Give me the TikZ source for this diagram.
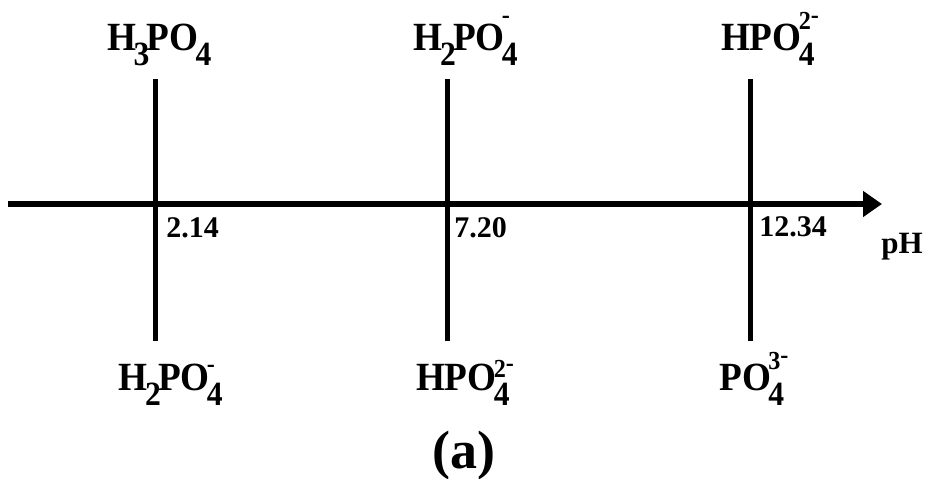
\documentclass[tikz,border=0pt]{standalone}
\usepackage{fontspec}
\usepackage{graphicx}
\setmainfont{Liberation Serif}
\usetikzlibrary{arrows.meta}
\newcommand{\chem}[1]{\scalebox{0.93}[1]{#1}}
\newcommand{\chsub}[1]{\kern-1.5pt\raisebox{-7.5pt}{\fontsize{17}{17}\selectfont#1}\kern-1.5pt}
\newcommand{\chmin}{\raisebox{3pt}{-}}
\newcommand{\chsubsup}[3][10.5pt]{\kern-1.5pt\rlap{\raisebox{-7.5pt}{\fontsize{17}{17}\selectfont#2}}\raisebox{#1}{\fontsize{13}{13}\selectfont#3}}
\begin{document}
\begin{tikzpicture}[x=0.5pt,y=-0.5pt,font=\bfseries\fontsize{20}{24}\selectfont,
  species/.style={anchor=base,inner sep=0pt},
  val/.style={anchor=base west,inner sep=0pt,font=\bfseries\fontsize{15}{18}\selectfont},
  >={Triangle[length=9.5pt,width=12.5pt]}]
\useasboundingbox (0,0) rectangle (932,478);
% pH axis
\coordinate (start) at (8,204);
\coordinate (end) at (882,204);
\draw[->,line width=3pt] (start) -- (end);
\node[val,font=\bfseries\fontsize{15.5}{18}\selectfont] (ph) at (881,253) {pH};
% equilibria
\coordinate (t1) at (155,79);
\coordinate (b1) at (155,341);
\coordinate (t2) at (447,79);
\coordinate (b2) at (447,341);
\coordinate (t3) at (750,79);
\coordinate (b3) at (750,341);
\draw[line width=2.5pt] (t1) -- (b1);
\draw[line width=2.5pt] (t2) -- (b2);
\draw[line width=2.5pt] (t3) -- (b3);
\node[species] (acid1) at (158,50) {\chem{H\chsub{3}PO\chsub{4}}};
\node[species] (acid2) at (462,50) {\chem{H\chsub{2}PO\chsubsup{4}{\chmin}}};
\node[species] (acid3) at (770,50) {\chem{HPO\chsubsup{4}{2\chmin}}};
\node[species] (base1) at (167,390) {\chem{H\chsub{2}PO\chsubsup[6pt]{4}{\chmin}}};
\node[species] (base2) at (465,390) {\chem{HPO\chsubsup[6.5pt]{4}{2\chmin}}};
\node[species] (base3) at (754,390) {\chem{PO\chsubsup{4}{3\chmin}}};
\node[val] (pk1) at (166,237) {2.14};
\node[val] (pk2) at (454,237) {7.20};
\node[val] (pk3) at (759,236) {12.34};
\node[anchor=base,inner sep=0pt,font=\bfseries\fontsize{27}{30}\selectfont] (label) at (464,468) {(a)};
\end{tikzpicture}
\end{document}
